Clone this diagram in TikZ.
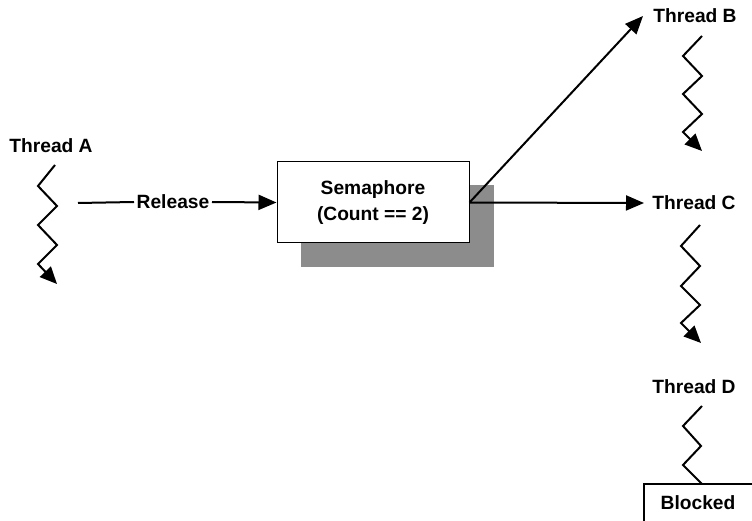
\documentclass[tikz,border=0pt]{standalone}
\usepackage{fontspec}
\setmainfont{Liberation Sans}
\usetikzlibrary{arrows.meta,backgrounds}
\begin{document}
\begin{tikzpicture}[x=1pt,y=-1pt,
  lbl/.style={font=\bfseries\fontsize{19.2}{22}\selectfont, inner sep=0pt},
  conn/.style={line width=2pt, -{Triangle[length=18pt,width=15pt]}},
  zig/.style={line width=2pt, line join=miter},
  zigarrow/.style={zig, -{Triangle[length=17pt,width=15pt]}},
  semabox/.style={draw, line width=1pt, fill=white, minimum width=192pt, minimum height=81pt, align=center, font=\bfseries\fontsize{19.2}{26}\selectfont},
  shadowfill/.style={fill=black!45}]
\useasboundingbox (0,0) rectangle (752,521);
% labels
\node[lbl] (tA) at (51,146) {Thread A};
\node[lbl] (tB) at (695,16) {Thread B};
\node[lbl] (tC) at (694,203) {Thread C};
\node[lbl] (tD) at (694,387) {Thread D};
\node[lbl] (blk) at (698,503) {Blocked};
% semaphore
\node[semabox] (sem) at (373,202.5) {Semaphore\\(Count == 2)};
\begin{scope}[on background layer]
\fill[shadowfill] ([shift={(24,24)}]sem.north west) rectangle ([shift={(24,24)}]sem.south east);
\end{scope}
% release
\coordinate (rs) at (78,203);
\node[lbl, inner xsep=2.5pt] (rel) at (173,202) {Release};
\draw[line width=2pt] (rs) -- (rel.west);
\draw[conn] (rel.east) -- (sem.west);
% outputs
\coordinate (bt) at (643,16);
\coordinate (ct) at (644,203);
\draw[conn] (sem.east) -- (bt);
\draw[conn] (sem.east) -- (ct);
% zigzags
\draw[zigarrow] (55,165) -- (38,186) -- (57,206) -- (38,225) -- (57,245) -- (38,264) -- (57,284);
\draw[zigarrow] (702,36) -- (683,56) -- (702,76) -- (683,94) -- (702,114) -- (683,132) -- (702,151);
\draw[zigarrow] (700,225) -- (681,246) -- (700,266) -- (681,286) -- (700,305) -- (681,323) -- (701,343);
\draw[zig] (702,406) -- (683,426) -- (701,446) -- (683,465) -- (702,484);
% blocked box
\draw[line width=1.5pt] (752,484) -- (644,484) -- (644,521);
\end{tikzpicture}
\end{document}
